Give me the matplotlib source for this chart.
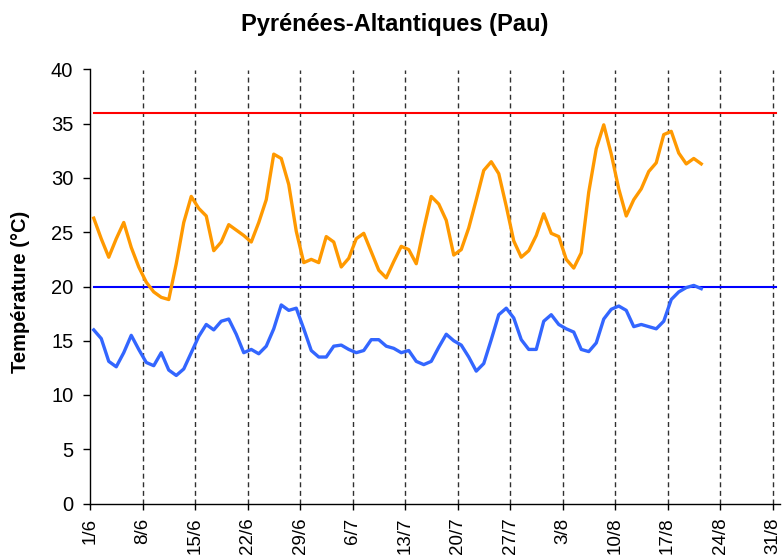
import numpy as np
import matplotlib
matplotlib.use("Agg")
import matplotlib.pyplot as plt

plt.rcParams['font.family'] = ['Liberation Sans', 'DejaVu Sans']

title = "Pyrénées-Altantiques (Pau)"
ylabel = "Température (°C)"

tick_labels = ["1/6", "8/6", "15/6", "22/6", "29/6", "6/7", "13/7", "20/7",
               "27/7", "3/8", "10/8", "17/8", "24/8", "31/8"]
n_days = 92  # 1/6 .. 31/8

t_max = [26.3, 24.4, 22.7, 24.4, 25.9, 23.6, 21.8, 20.4, 19.5, 19.0,
         18.8, 22.1, 25.9, 28.3, 27.2, 26.5, 23.3, 24.1, 25.7, 25.2,
         24.7, 24.1, 25.9, 28.0, 32.2, 31.8, 29.4, 25.1, 22.2, 22.5,
         22.2, 24.6, 24.1, 21.8, 22.6, 24.4, 24.9, 23.2, 21.5, 20.8,
         22.3, 23.7, 23.4, 22.1, 25.3, 28.3, 27.6, 26.1, 22.9, 23.4,
         25.4, 28.0, 30.7, 31.5, 30.4, 27.4, 24.2, 22.7, 23.3, 24.7,
         26.7, 24.9, 24.6, 22.5, 21.7, 23.1, 28.7, 32.7, 34.9, 32.2,
         29.0, 26.5, 28.0, 29.0, 30.6, 31.4, 34.0, 34.3, 32.3, 31.3,
         31.8, 31.3]

t_min = [16.0, 15.2, 13.1, 12.6, 13.9, 15.5, 14.2, 13.0, 12.7, 13.9,
         12.3, 11.8, 12.4, 13.9, 15.4, 16.5, 16.0, 16.8, 17.0, 15.6,
         13.9, 14.2, 13.8, 14.5, 16.1, 18.3, 17.8, 18.0, 16.1, 14.1,
         13.5, 13.5, 14.5, 14.6, 14.2, 13.9, 14.1, 15.1, 15.1, 14.5,
         14.3, 13.9, 14.1, 13.1, 12.8, 13.1, 14.4, 15.6, 15.0, 14.6,
         13.5, 12.2, 12.9, 15.1, 17.4, 18.0, 17.1, 15.1, 14.2, 14.2,
         16.8, 17.4, 16.5, 16.1, 15.8, 14.2, 14.0, 14.8, 17.0, 17.9,
         18.2, 17.8, 16.3, 16.5, 16.3, 16.1, 16.8, 18.8, 19.5, 19.9,
         20.1, 19.8]

seuil_max = 36
seuil_min = 20

fig = plt.figure(figsize=(7.84, 5.55), dpi=100)
ax = fig.add_axes([90/784, 1 - 503.5/555, 690/784, (503.5 - 69.5)/555])

tick_pos = np.arange(0, n_days, 7)
for p in tick_pos[1:]:
    ax.axvline(p, color='#303030', lw=1.0, linestyle=(0, (3.6, 2.6)), zorder=1)

all_x = np.arange(n_days) + 0.5
ax.plot(all_x, np.full(n_days, seuil_max), color='#FF0000', lw=1.5, zorder=2)
ax.plot(all_x, np.full(n_days, seuil_min), color='#0000FF', lw=1.5, zorder=2)

x = np.arange(len(t_max)) + 0.5
ax.plot(x, t_max, color='#FF9900', lw=2.4, zorder=3, solid_joinstyle='round')
ax.plot(x, np.array(t_min), color='#3366FF', lw=2.4, zorder=3, solid_joinstyle='round')

ax.set_xlim(0, n_days)
ax.set_ylim(0, 40)
ax.set_yticks(np.arange(0, 41, 5))
ax.set_xticks(tick_pos)
ax.set_xticklabels(tick_labels, rotation=90, fontsize=13.5)
ax.tick_params(axis='y', labelsize=14.5, length=5, width=1, direction='out', pad=7)
ax.tick_params(axis='x', length=4, width=1, direction='out', pad=6)

for s in ['top', 'right']:
    ax.spines[s].set_visible(False)
for s in ['left', 'bottom']:
    ax.spines[s].set_linewidth(1.0)
    ax.spines[s].set_color('black')

fig.text(395/784, 1 - 24/555, title, ha='center', va='center',
         fontsize=17, fontweight='bold')
fig.text(21/784, 1 - 292/555, ylabel, ha='center', va='center',
         rotation=90, fontsize=14.5, fontweight='bold')

fig.savefig('out.png', dpi=100)
